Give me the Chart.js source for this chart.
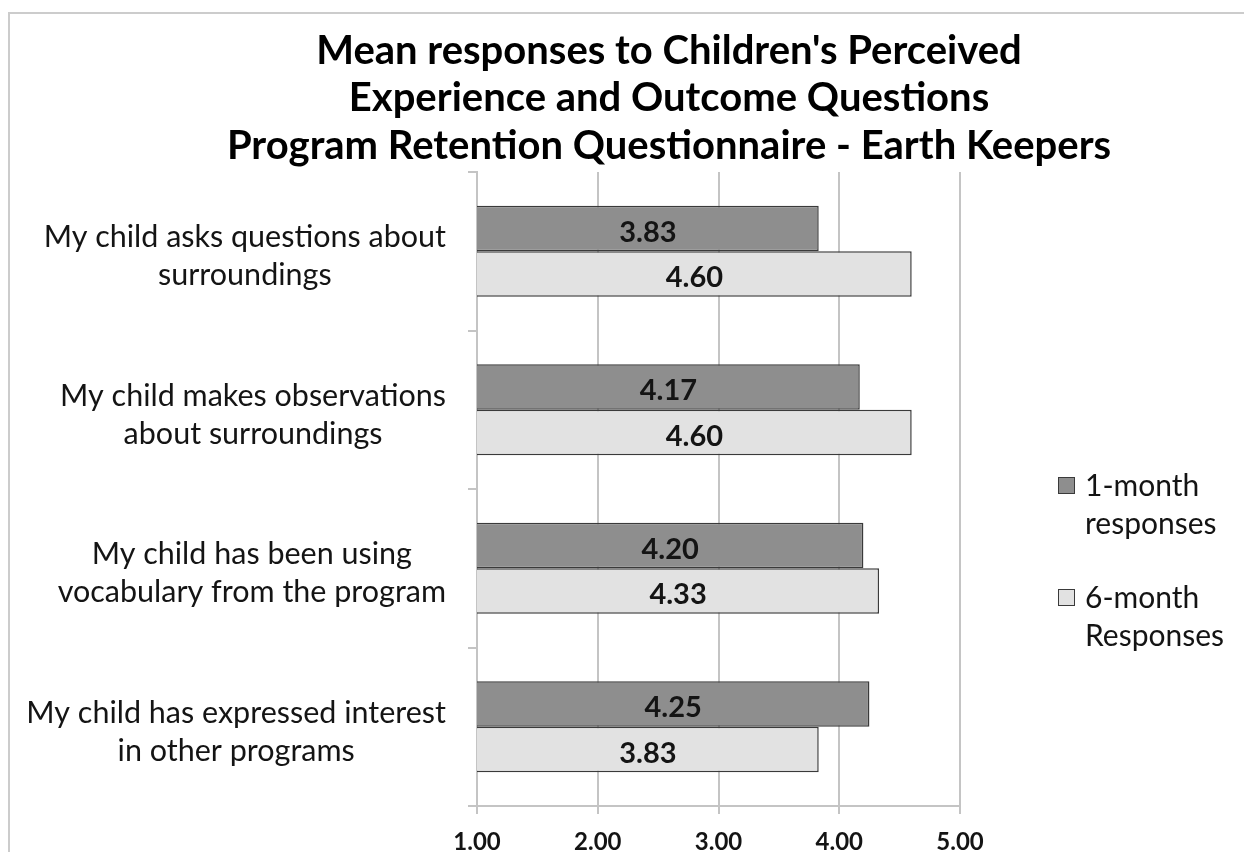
<!DOCTYPE html>
<html>
<head>
<meta charset="utf-8">
<script src="https://cdn.jsdelivr.net/npm/chart.js@4.4.1/dist/chart.umd.min.js"></script>
<style>
  html, body { margin: 0; padding: 0; background: #fff; overflow: hidden; }
  #wrap { position: relative; width: 1244px; height: 852px; }
</style>
</head>
<body>
<div id="wrap"><canvas id="c" width="1244" height="852"></canvas></div>
<script>
const titleLines = [
  "Mean responses to Children's Perceived",
  "Experience and Outcome Questions",
  "Program Retention Questionnaire - Earth Keepers"
];
const categories = [
  ["My child asks questions about", "surroundings"],
  ["My child makes observations", "about surroundings"],
  ["My child has been using", "vocabulary from the program"],
  ["My child has expressed interest", "in other programs"]
];
const seriesNames = [["1-month", "responses"], ["6-month", "Responses"]];
const oneMonth = [3.83, 4.17, 4.20, 4.25];
const sixMonth = [4.60, 4.60, 4.33, 3.83];
const xMin = 1, xMax = 5, xStep = 1;

const FONT = "Lato";
const TEXT = "#141414";
const GRID = "#c4c4c4";

const customPlugin = {
  id: 'custom',
  afterLayout(chart) {
    const t = chart.titleBlock;
    if (t) { t.left = 0; t.right = 1338; t.width = 1338; }
  },
  beforeDraw(chart) {
    const ctx = chart.ctx;
    ctx.save();
    ctx.fillStyle = "#cccccc";
    ctx.fillRect(8, 12, 1244 - 8, 2);
    ctx.fillRect(8, 12, 2, 852 - 12);
    ctx.restore();
  },
  afterDatasetsDraw(chart) {
    const ctx = chart.ctx;
    const left = chart.chartArea.left;
    ctx.save();
    ctx.font = "bold 29px " + FONT;
    ctx.fillStyle = TEXT;
    ctx.textAlign = "center";
    ctx.textBaseline = "middle";
    chart.data.datasets.forEach((ds, di) => {
      const meta = chart.getDatasetMeta(di);
      meta.data.forEach((bar, i) => {
        const p = bar.getProps(['x', 'y', 'base'], true);
        const start = Math.max(Math.min(p.x, p.base), left);
        const end = Math.max(p.x, p.base);
        ctx.fillText(ds.data[i].toFixed(2), (start + end) / 2, p.y + 4);
      });
    });
    ctx.restore();
  },
  afterDraw(chart) {
    const ctx = chart.ctx;
    const yScale = chart.scales.y;
    ctx.save();
    // category labels: block right-aligned, lines centred within block
    ctx.font = "30.5px " + FONT;
    ctx.fillStyle = TEXT;
    ctx.textAlign = "center";
    ctx.textBaseline = "middle";
    const right = 446, lh = 38;
    chart.data.labels.forEach((lab, i) => {
      const lines = Array.isArray(lab) ? lab : [lab];
      const widest = Math.max(...lines.map(l => ctx.measureText(l).width));
      const cx = right - widest / 2;
      const cy = yScale.getPixelForValue(i) + 5;
      const y0 = cy - (lines.length - 1) * lh / 2;
      lines.forEach((l, k) => ctx.fillText(l, cx, y0 + k * lh));
    });
    // legend
    const lx = 1058, items = [485, 597];
    chart.data.datasets.forEach((ds, di) => {
      const y = items[di];
      ctx.fillStyle = ds.backgroundColor;
      ctx.fillRect(lx, y - 8, 17, 17);
      ctx.strokeStyle = "#3a3a3a";
      ctx.lineWidth = 1;
      ctx.strokeRect(lx + 0.5, y - 7.5, 16, 16);
      ctx.fillStyle = TEXT;
      ctx.textAlign = "left";
      ctx.font = "30px " + FONT;
      seriesNames[di].forEach((t, k) => ctx.fillText(t, 1085, y + 1 + k * 38));
    });
    ctx.restore();
  }
};

new Chart(document.getElementById('c'), {
  type: 'bar',
  data: {
    labels: categories,
    datasets: [
      { label: seriesNames[0].join(' '), data: oneMonth, backgroundColor: '#8e8e8e', borderColor: '#3a3a3a', borderWidth: 1.5, borderSkipped: false },
      { label: seriesNames[1].join(' '), data: sixMonth, backgroundColor: '#e2e2e2', borderColor: '#3a3a3a', borderWidth: 1.5, borderSkipped: false }
    ]
  },
  options: {
    indexAxis: 'y',
    responsive: false,
    animation: false,
    devicePixelRatio: 1,
    layout: { padding: { left: 0, right: 284, top: 12, bottom: 0 } },
    datasets: { bar: { barPercentage: 1, categoryPercentage: 0.575 } },
    plugins: {
      legend: { display: false },
      tooltip: { enabled: false },
      title: {
        display: true,
        text: titleLines,
        color: '#000',
        font: { family: FONT, size: 40, weight: 'bold', lineHeight: 47.5 / 40 },
        padding: { top: 15, bottom: 2.5 }
      }
    },
    scales: {
      x: {
        min: xMin, max: xMax,
        ticks: {
          stepSize: xStep,
          callback: v => Number(v).toFixed(2),
          color: TEXT,
          font: { family: FONT, size: 24, weight: 'bold' },
          padding: 14
        },
        grid: { color: GRID, lineWidth: 2, tickLength: 8, drawTicks: true },
        border: { color: GRID, width: 2 },
        afterFit(s) { s.height = 852 - 806; }
      },
      y: {
        ticks: { display: false },
        grid: { offset: true, drawOnChartArea: false, drawTicks: true, tickLength: 9, color: GRID, lineWidth: 2 },
        border: { color: GRID, width: 2 },
        afterFit(s) { s.width = 477; }
      }
    }
  },
  plugins: [customPlugin]
});
</script>
</body>
</html>
